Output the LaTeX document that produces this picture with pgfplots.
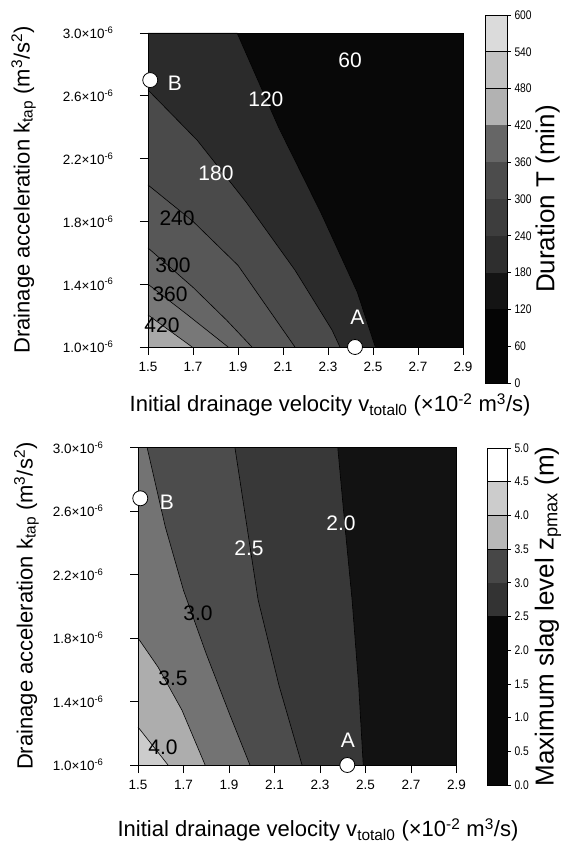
\documentclass[border=0pt]{standalone}
\usepackage{fontspec}
\setmainfont{Liberation Sans}
\newfontfamily\narrowfont[FakeStretch=0.82]{Liberation Sans}
\usepackage{pgfplots}
\pgfplotsset{compat=1.18}

% band colours, top chart (duration T)
\definecolor{t0}{gray}{0.03}
\definecolor{t1}{gray}{0.17}
\definecolor{t2}{gray}{0.29}
\definecolor{t3}{gray}{0.34}
\definecolor{t4}{gray}{0.40}
\definecolor{t5}{gray}{0.47}
\definecolor{t6}{gray}{0.66}
% band colours, bottom chart (slag level)
\definecolor{b0}{gray}{0.07}
\definecolor{b1}{gray}{0.22}
\definecolor{b2}{gray}{0.30}
\definecolor{b3}{gray}{0.45}
\definecolor{b4}{gray}{0.68}
\definecolor{b5}{gray}{0.80}

\tikzset{clab/.style={font=\fontsize{21}{21}\selectfont, inner sep=0pt}}

\pgfplotsset{
  mainax/.style={
    scale only axis, xmin=1.5, xmax=2.9, ymin=1, ymax=3,
    clip=false, axis on top,
    xtick={1.5,1.7,1.9,2.1,2.3,2.5,2.7,2.9},
    xticklabels={1.5,1.7,1.9,2.1,2.3,2.5,2.7,2.9},
    ytick={1,1.4,1.8,2.2,2.6,3},
    yticklabels={1.0×10\textsuperscript{-6},1.4×10\textsuperscript{-6},1.8×10\textsuperscript{-6},
      2.2×10\textsuperscript{-6},2.6×10\textsuperscript{-6},3.0×10\textsuperscript{-6}},
    tick align=outside, tick pos=left, major tick length=8pt,
    every tick/.style={black, line width=0.8pt},
    axis line style={line width=0.8pt},
    ticklabel style={font=\fontsize{13.5}{14}\selectfont},
    xticklabel style={yshift=-4pt}, yticklabel style={xshift=-23pt},
    label style={font=\fontsize{22}{24}\selectfont},
    xlabel={Initial drainage velocity v\textsubscript{total0} (×10\textsuperscript{-2} m\textsuperscript{3}/s)},
    ylabel={Drainage acceleration k\textsubscript{tap} (m\textsuperscript{3}/s\textsuperscript{2})},
  },
  cbar/.style={
    scale only axis, xmin=0, xmax=1, xtick=\empty, axis on top,
    ytick pos=right, yticklabel pos=right, tick align=outside,
    major tick length=4pt, every tick/.style={black, line width=0.6pt},
    ticklabel style={font=\narrowfont\fontsize{12.5}{13}\selectfont},
    label style={font=\fontsize{26}{28}\selectfont},
    axis line style={line width=0.6pt},
  },
  pts/.style={only marks, mark=*, mark size=7.5pt,
    mark options={fill=white, draw=black, line width=0.8pt}},
  cline/.style={black, line width=0.6pt},
}

\begin{document}
\begin{tikzpicture}
\path[use as bounding box] (0,0) rectangle (562pt,845pt);

% ---------------- top: duration T ----------------
\begin{axis}[mainax, at={(148pt,498pt)}, anchor=south west,
  width=315pt, height=314pt,
  axis background/.style={fill=t0},
  xlabel style={at={(axis description cs:0.578,-0.185)}, anchor=center},
  ylabel style={at={(axis description cs:-0.395,0.5)}, anchor=center}]
% regions above each level (T > 120, 180, ... 420)
\addplot[fill=t1, draw=none] coordinates {(1.5,3) (1.896,3) (2.08,2.4) (2.27,1.85) (2.43,1.35) (2.51,1) (1.5,1)};
\addplot[fill=t2, draw=none] coordinates {(1.5,2.637) (1.718,2.318) (1.936,1.923) (2.153,1.49) (2.318,1.108) (2.353,1) (1.5,1)};
\addplot[fill=t3, draw=none] coordinates {(1.5,2.032) (1.70,1.80) (1.90,1.52) (2.153,1) (1.5,1)};
\addplot[fill=t4, draw=none] coordinates {(1.5,1.631) (1.70,1.38) (1.85,1.17) (1.962,1) (1.5,1)};
\addplot[fill=t5, draw=none] coordinates {(1.5,1.40) (1.68,1.20) (1.856,1) (1.5,1)};
\addplot[fill=t6, draw=none] coordinates {(1.5,1.204) (1.60,1.10) (1.696,1) (1.5,1)};
% contour lines
\addplot[cline] coordinates {(1.896,3) (2.08,2.4) (2.27,1.85) (2.43,1.35) (2.51,1)};
\addplot[cline] coordinates {(1.5,2.637) (1.718,2.318) (1.936,1.923) (2.153,1.49) (2.318,1.108) (2.353,1)};
\addplot[cline] coordinates {(1.5,2.032) (1.70,1.80) (1.90,1.52) (2.153,1)};
\addplot[cline] coordinates {(1.5,1.631) (1.70,1.38) (1.85,1.17) (1.962,1)};
\addplot[cline] coordinates {(1.5,1.40) (1.68,1.20) (1.856,1)};
\addplot[cline] coordinates {(1.5,1.204) (1.60,1.10) (1.696,1)};
% operating points
\addplot[pts] coordinates {(1.51,2.7) (2.42,1.0)};
\node[clab, text=white] at (axis cs:1.62,2.68) {B};
\node[clab, text=white] at (axis cs:2.43,1.19) {A};
% level labels
\node[clab, text=white] at (axis cs:2.398,2.828) {60};
\node[clab, text=white] at (axis cs:2.024,2.58) {120};
\node[clab, text=white] at (axis cs:1.802,2.108) {180};
\node[clab] at (axis cs:1.629,1.822) {240};
\node[clab] at (axis cs:1.611,1.522) {300};
\node[clab] at (axis cs:1.598,1.338) {360};
\node[clab] at (axis cs:1.562,1.14) {420};
\end{axis}

% colour key, top
\begin{axis}[cbar, at={(485pt,462pt)}, anchor=south west,
  width=22pt, height=368pt, ymin=0, ymax=600,
  ytick={0,60,120,180,240,300,360,420,480,540,600},
  yticklabels={0,60,120,180,240,300,360,420,480,540,600},
  ylabel={Duration T (min)},
  ylabel style={at={(axis description cs:2.85,0.5)}, anchor=center}]
\addplot[fill=black!98, draw=none] coordinates {(0,0) (1,0) (1,120) (0,120)};
\addplot[fill=black!92, draw=none] coordinates {(0,120) (1,120) (1,180) (0,180)};
\addplot[fill=black!82, draw=none] coordinates {(0,180) (1,180) (1,240) (0,240)};
\addplot[fill=black!76, draw=none] coordinates {(0,240) (1,240) (1,300) (0,300)};
\addplot[fill=black!70, draw=none] coordinates {(0,300) (1,300) (1,360) (0,360)};
\addplot[fill=black!60, draw=none] coordinates {(0,360) (1,360) (1,420) (0,420)};
\addplot[fill=black!30, draw=none] coordinates {(0,420) (1,420) (1,480) (0,480)};
\addplot[fill=black!24, draw=none] coordinates {(0,480) (1,480) (1,540) (0,540)};
\addplot[fill=black!14, draw=none] coordinates {(0,540) (1,540) (1,600) (0,600)};
\addplot[black, line width=0.6pt] coordinates {(0,480) (1,480)};
\addplot[black, line width=0.6pt] coordinates {(0,540) (1,540)};
\end{axis}

% ---------------- bottom: maximum slag level ----------------
\begin{axis}[mainax, at={(138pt,80pt)}, anchor=south west,
  width=318.5pt, height=317.5pt,
  axis background/.style={fill=b0},
  xlabel style={at={(axis description cs:0.565,-0.205)}, anchor=center},
  ylabel style={at={(axis description cs:-0.35,0.5)}, anchor=center}]
\addplot[fill=b1, draw=none] coordinates {(1.5,3) (2.378,3) (2.41,2.5) (2.441,2.04) (2.47,1.5) (2.49,1) (1.5,1)};
\addplot[fill=b2, draw=none] coordinates {(1.5,3) (1.926,3) (2.028,2.04) (2.12,1.5) (2.221,1) (1.5,1)};
\addplot[fill=b3, draw=none] coordinates {(1.5,3) (1.54,3) (1.62,2.5) (1.70,2.1) (1.80,1.7) (1.90,1.33) (1.992,1) (1.5,1)};
\addplot[fill=b4, draw=none] coordinates {(1.5,1.80) (1.588,1.617) (1.693,1.346) (1.795,1) (1.5,1)};
\addplot[fill=b5, draw=none] coordinates {(1.5,1.239) (1.632,1) (1.5,1)};
\addplot[cline] coordinates {(2.378,3) (2.41,2.5) (2.441,2.04) (2.47,1.5) (2.49,1)};
\addplot[cline] coordinates {(1.926,3) (2.028,2.04) (2.12,1.5) (2.221,1)};
\addplot[cline] coordinates {(1.54,3) (1.62,2.5) (1.70,2.1) (1.80,1.7) (1.90,1.33) (1.992,1)};
\addplot[cline] coordinates {(1.5,1.80) (1.588,1.617) (1.693,1.346) (1.795,1)};
\addplot[cline] coordinates {(1.5,1.239) (1.632,1)};
\addplot[pts] coordinates {(1.51,2.68) (2.42,1.0)};
\node[clab, text=white] at (axis cs:1.627,2.657) {B};
\node[clab, text=white] at (axis cs:2.423,1.158) {A};
\node[clab, text=white] at (axis cs:2.392,2.525) {2.0};
\node[clab, text=white] at (axis cs:1.988,2.367) {2.5};
\node[clab] at (axis cs:1.764,1.958) {3.0};
\node[clab] at (axis cs:1.654,1.548) {3.5};
\node[clab] at (axis cs:1.61,1.113) {4.0};
\end{axis}

% colour key, bottom
\begin{axis}[cbar, at={(487pt,60pt)}, anchor=south west,
  width=20pt, height=337pt, ymin=0, ymax=5,
  ytick={0,0.5,1,1.5,2,2.5,3,3.5,4,4.5,5},
  yticklabels={0.0,0.5,1.0,1.5,2.0,2.5,3.0,3.5,4.0,4.5,5.0},
  ylabel={Maximum slag level z\textsubscript{pmax} (m)},
  ylabel style={at={(axis description cs:3.05,0.5)}, anchor=center}]
\addplot[fill=black!97, draw=none] coordinates {(0,0) (1,0) (1,2.5) (0,2.5)};
\addplot[fill=black!80, draw=none] coordinates {(0,2.5) (1,2.5) (1,3) (0,3)};
\addplot[fill=black!72, draw=none] coordinates {(0,3) (1,3) (1,3.5) (0,3.5)};
\addplot[fill=black!28, draw=none] coordinates {(0,3.5) (1,3.5) (1,4) (0,4)};
\addplot[fill=black!20, draw=none] coordinates {(0,4) (1,4) (1,4.5) (0,4.5)};
\addplot[fill=white, draw=none] coordinates {(0,4.5) (1,4.5) (1,5) (0,5)};
\addplot[black, line width=0.6pt] coordinates {(0,3.5) (1,3.5)};
\addplot[black, line width=0.6pt] coordinates {(0,4) (1,4)};
\addplot[black, line width=0.6pt] coordinates {(0,4.5) (1,4.5)};
\end{axis}
\end{tikzpicture}
\end{document}
